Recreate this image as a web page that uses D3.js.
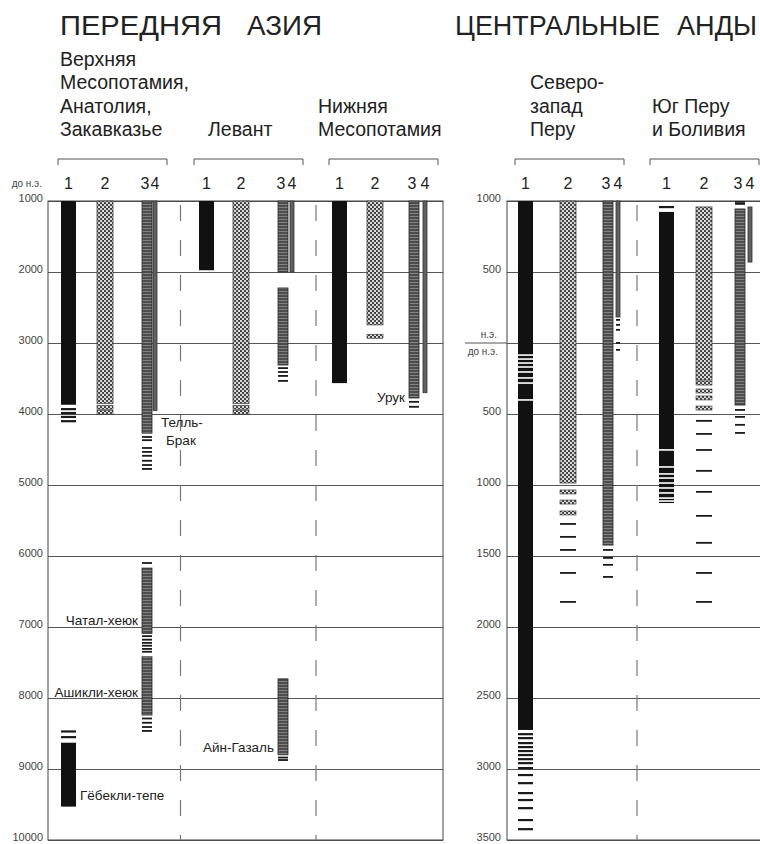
<!DOCTYPE html>
<html>
<head>
<meta charset="utf-8">
<script src="https://cdn.jsdelivr.net/npm/d3@7"></script>
<style>
  body { margin: 0; background: #fff; }
  svg { font-family: "Liberation Sans", Arial, sans-serif; }
</style>
</head>
<body>
<div id="chart"></div>
<script>
// ---- data ----
// left panel: years BC; right panel: years AD positive, BC negative

// Верхняя Месопотамия, Анатолия, Закавказье
var a1Bars = [[1000, 3870], [8630, 9530]];
var a1Ticks = [3930, 3985, 4040, 4100, 8470, 8550];
var a2Bars = [[1000, 3850]];
var a2Blocks = [3905, 3975];
var a3Bars = [[1000, 4270], [6170, 7090], [7420, 8240]];
var a3Ticks = [4325, 4370, 4480, 4535, 4590, 4660, 4720, 4775, 6100, 7130, 7180, 7225, 7265, 7310, 7350, 8290, 8350, 8410, 8465];
var a4Bars = [[1000, 3950]];

// Левант
var b1Bars = [[1000, 1975]];
var b2Bars = [[1000, 3850]];
var b2Blocks = [3905, 3975];
var b3Bars = [[1000, 2000], [2225, 3310], [7730, 8800]];
var b3Ticks = [3355, 3410, 3465, 3535, 8840, 8875];
var b4Bars = [[1000, 2000]];

// Нижняя Месопотамия
var c1Bars = [[1000, 3565]];
var c2Bars = [[1000, 2745]];
var c2Blocks = [2905];
var c3Bars = [[1000, 3775]];
var c3Ticks = [3830, 3900];
var c4Bars = [[1000, 3700]];

// Северо-запад Перу
var d1Bars = [[1000, -2725]];
var d1Gaps = [-85, -113, -141, -169, -204, -246, -282, -401];
var d1Ticks = [-2754, -2782, -2817, -2845, -2873, -2901, -2930, -2958, -2993, -3042, -3099, -3169, -3218, -3275, -3359, -3423];
var d2Bars = [[1000, -986]];
var d2Blocks = [-1049, -1120, -1197];
var d2Ticks = [-1275, -1366, -1458, -1620, -1824];
var d3Bars = [[1000, -1423]];
var d3Ticks = [-1458, -1514, -1563, -1648];
var d4Bars = [[1000, 183]];
var d4Ticks = [162, 127, 92, 0, -49];

// Юг Перу и Боливия
var e1Bars = [[923, -1127]];
var e1Ticks = [958];
var e1Gaps = [-753, -873, -922, -951, -986, -1021, -1056, -1092, -1113];
var e2Bars = [[958, -261]];
var e2Blocks = [-282, -338, -387, -458];
var e2Ticks = [-549, -641, -754, -901, -1049, -1218, -1408, -1620, -1824];
var e3Bars = [[944, -437]];
var e3Ticks = [993, 979, -472, -521, -577, -634];
var e4Bars = [[958, 570]];

var groups = ["A", "B", "C", "D", "E"];
var groupNames = [
  ["Верхняя", "Месопотамия,", "Анатолия,", "Закавказье"],
  ["Левант"],
  ["Нижняя", "Месопотамия"],
  ["Северо-", "запад", "Перу"],
  ["Юг Перу", "и Боливия"]
];
var colNames = ["1", "2", "3", "4"];
var leftTicks = [1000, 2000, 3000, 4000, 5000, 6000, 7000, 8000, 9000, 10000];
var rightTicks = [1000, 500, 0, -500, -1000, -1500, -2000, -2500, -3000, -3500];
var rightTickLabels = ["1000", "500", "", "500", "1000", "1500", "2000", "2500", "3000", "3500"];

var sites = [
  { text: "Телль-", group: "A", col: "4", side: "right", year: 4110 },
  { text: "Брак", group: "A", col: "4", side: "right", year: 4370, shift: 5 },
  { text: "Чатал-хеюк", group: "A", col: "3", side: "left", year: 6900 },
  { text: "Ашикли-хеюк", group: "A", col: "3", side: "left", year: 7915 },
  { text: "Гёбекли-тепе", group: "A", col: "1", side: "right", year: 9370 },
  { text: "Айн-Газаль", group: "B", col: "3", side: "left", year: 8700 },
  { text: "Урук", group: "C", col: "3", side: "left", year: 3760 }
];

var columns = [
  { group: "A", col: "1", bars: a1Bars, ticks: a1Ticks },
  { group: "A", col: "2", bars: a2Bars, blocks: a2Blocks },
  { group: "A", col: "3", bars: a3Bars, ticks: a3Ticks },
  { group: "A", col: "4", bars: a4Bars },
  { group: "B", col: "1", bars: b1Bars },
  { group: "B", col: "2", bars: b2Bars, blocks: b2Blocks },
  { group: "B", col: "3", bars: b3Bars, ticks: b3Ticks },
  { group: "B", col: "4", bars: b4Bars },
  { group: "C", col: "1", bars: c1Bars },
  { group: "C", col: "2", bars: c2Bars, blocks: c2Blocks },
  { group: "C", col: "3", bars: c3Bars, ticks: c3Ticks },
  { group: "C", col: "4", bars: c4Bars },
  { group: "D", col: "1", bars: d1Bars, ticks: d1Ticks, gaps: d1Gaps },
  { group: "D", col: "2", bars: d2Bars, blocks: d2Blocks, ticks: d2Ticks },
  { group: "D", col: "3", bars: d3Bars, ticks: d3Ticks },
  { group: "D", col: "4", bars: d4Bars, ticks: d4Ticks },
  { group: "E", col: "1", bars: e1Bars, ticks: e1Ticks, gaps: e1Gaps },
  { group: "E", col: "2", bars: e2Bars, blocks: e2Blocks, ticks: e2Ticks },
  { group: "E", col: "3", bars: e3Bars, ticks: e3Ticks },
  { group: "E", col: "4", bars: e4Bars }
];

// ---- layout ----
var W = 760, H = 844;
var yTop = 201, yBottom = 840;
var leftX0 = 48, leftX1 = 443, rightX0 = 507;
var bracketW = 109;

var svg = d3.select("#chart").append("svg")
  .attr("width", W).attr("height", H);

// scales
var yL = d3.scaleLinear().domain([1000, 10000]).range([yTop, yBottom]);
var yR = d3.scaleLinear().domain([1000, -3500]).range([yTop, yBottom]);
function yOf(g) { return (g == "D" || g == "E") ? yR : yL; }

var gx = d3.scaleOrdinal().domain(groups).range([58, 194, 329, 515, 650]);
var nameX = d3.scaleOrdinal().domain(groups).range([60, 208, 318, 530, 652]);
// left edge of every column, group+col key
var colKeys = [], colLeft = [
  61, 97, 142, 153,
  199, 233, 278, 290,
  332, 367, 409, 423,
  518, 560, 603, 616,
  659, 696, 735, 748
];
groups.forEach(function (g) { colNames.forEach(function (c) { colKeys.push(g + c); }); });
var colX = d3.scaleOrdinal().domain(colKeys).range(colLeft);
var cw = d3.scaleOrdinal().domain(colNames).range([15, 16, 10, 4]);

// patterns
var defs = svg.append("defs");
var pDots = defs.append("pattern").attr("id", "dots")
  .attr("patternUnits", "userSpaceOnUse").attr("width", 4).attr("height", 4);
pDots.append("rect").attr("width", 4).attr("height", 4).attr("fill", "#3c3c3c");
pDots.append("circle").attr("cx", 1).attr("cy", 1).attr("r", 1.15).attr("fill", "#e4e4e4");
pDots.append("circle").attr("cx", 3).attr("cy", 3).attr("r", 1.15).attr("fill", "#e4e4e4");

var pLines = defs.append("pattern").attr("id", "hlines")
  .attr("patternUnits", "userSpaceOnUse").attr("width", 4).attr("height", 3);
pLines.append("rect").attr("width", 4).attr("height", 3).attr("fill", "#4e4e4e");
pLines.append("rect").attr("width", 4).attr("height", 0.8).attr("fill", "#8e8e8e");

var barFill = { "1": "#111", "2": "url(#dots)", "3": "url(#hlines)", "4": "#606060" };
var barStroke = { "1": "none", "2": "#444", "3": "#2a2a2a", "4": "#333" };

// titles
var titles = [["ПЕРЕДНЯЯ", 60, 162], ["АЗИЯ", 247, 75], ["ЦЕНТРАЛЬНЫЕ", 455, 205], ["АНДЫ", 677, 80]];
svg.append("g").selectAll("text")
  .data(titles)
  .enter()
  .append("text")
  .attr("x", function (d) { return d[1]; })
  .attr("y", 35)
  .attr("textLength", function (d) { return d[2]; })
  .attr("lengthAdjust", "spacingAndGlyphs")
  .style("font-size", "27px").style("fill", "#222")
  .text(function (d) { return d[0]; });

// group names (bottom aligned)
groups.forEach(function (g, i) {
  var lines = groupNames[i];
  svg.append("g").selectAll("text")
    .data(lines)
    .enter()
    .append("text")
    .attr("x", nameX(g))
    .attr("y", function (d, j) { return 136 - (lines.length - 1 - j) * 23.5; })
    .style("font-size", "19.5px")
    .style("fill", "#222")
    .text(function (d) { return d; });

  // bracket
  var x0 = gx(g), x1 = gx(g) + bracketW;
  svg.append("path")
    .attr("d", "M" + x0 + ",165V159H" + x1 + "V165")
    .attr("fill", "none").attr("stroke", "#555").attr("stroke-width", 1);

  // column numbers
  svg.append("g").selectAll("text")
    .data(colNames)
    .enter()
    .append("text")
    .attr("x", function (d) { return colX(g + d) + cw(d) / 2 + (d == "3" ? -2 : 0); })
    .attr("y", 189)
    .attr("text-anchor", "middle")
    .style("font-size", "16px")
    .style("fill", "#222")
    .text(function (d) { return d; });
});

// axes with grid lines
var axL = svg.append("g")
  .attr("transform", "translate(" + leftX0 + ",0)")
  .call(d3.axisLeft(yL).tickValues(leftTicks).tickSize(-(leftX1 - leftX0)).tickPadding(5).tickFormat(d3.format("d")));
var axR = svg.append("g")
  .attr("transform", "translate(" + rightX0 + ",0)")
  .call(d3.axisLeft(yR).tickValues(rightTicks).tickSize(-(W - rightX0)).tickPadding(6)
    .tickFormat(function (d, i) { return rightTickLabels[i]; }));
[axL, axR].forEach(function (ax) {
  ax.select(".domain").remove();
  ax.selectAll(".tick line").attr("stroke", "#555").attr("stroke-width", 1);
  ax.selectAll(".tick text").attr("dy", "0.08em")
    .style("font-size", "11px").style("fill", "#444")
    .style("font-family", "'Liberation Sans', Arial, sans-serif");
});

// frames
svg.append("rect").attr("x", leftX0).attr("y", yTop)
  .attr("width", leftX1 - leftX0).attr("height", yBottom - yTop)
  .attr("fill", "none").attr("stroke", "#444");
svg.append("rect").attr("x", rightX0).attr("y", yTop)
  .attr("width", W - rightX0 + 10).attr("height", yBottom - yTop)
  .attr("fill", "none").attr("stroke", "#444");

// era line (н.э. / до н.э.)
svg.append("line")
  .attr("x1", 465).attr("x2", rightX0)
  .attr("y1", yR(0)).attr("y2", yR(0))
  .attr("stroke", "#555");
svg.append("text").attr("x", 497).attr("y", yR(0) - 5)
  .attr("text-anchor", "end").style("font-size", "10px").style("fill", "#444").text("н.э.");
svg.append("text").attr("x", 498).attr("y", yR(0) + 12)
  .attr("text-anchor", "end").style("font-size", "10px").style("fill", "#444").text("до н.э.");
svg.append("text").attr("x", 42).attr("y", 187)
  .attr("text-anchor", "end").style("font-size", "10px").style("fill", "#444").text("до н.э.");

// dashed separators between groups
var seps = [["A", "B"], ["B", "C"], ["D", "E"]];
svg.append("g").selectAll("line")
  .data(seps)
  .enter()
  .append("line")
  .attr("x1", function (d) { return (gx(d[0]) + bracketW + gx(d[1])) / 2; })
  .attr("x2", function (d) { return (gx(d[0]) + bracketW + gx(d[1])) / 2; })
  .attr("y1", 205).attr("y2", yBottom)
  .attr("stroke", "#777").attr("stroke-width", 1.2)
  .attr("stroke-dasharray", "16,19");

// columns
columns.forEach(function (c) {
  var y = yOf(c.group);
  var x = colX(c.group + c.col);
  var w = cw(c.col);
  var g = svg.append("g");

  g.selectAll("rect.bar")
    .data(c.bars)
    .enter()
    .append("rect")
    .attr("class", "bar")
    .attr("x", x).attr("width", w)
    .attr("y", function (d) { return y(d[0]); })
    .attr("height", function (d) { return y(d[1]) - y(d[0]); })
    .attr("fill", barFill[c.col])
    .attr("stroke", barStroke[c.col])
    .attr("stroke-width", 0.8);

  g.selectAll("rect.gap")
    .data(c.gaps || [])
    .enter()
    .append("rect")
    .attr("class", "gap")
    .attr("x", x - 0.5).attr("width", w + 1)
    .attr("y", function (d) { return y(d) - 0.8; })
    .attr("height", 1.6)
    .attr("fill", "#fff");

  g.selectAll("rect.block")
    .data(c.blocks || [])
    .enter()
    .append("rect")
    .attr("class", "block")
    .attr("x", x).attr("width", w)
    .attr("y", function (d) { return y(d) - 2; })
    .attr("height", 4)
    .attr("fill", "url(#dots)")
    .attr("stroke", "#333").attr("stroke-width", 0.6);

  g.selectAll("rect.tick")
    .data(c.ticks || [])
    .enter()
    .append("rect")
    .attr("class", "tick")
    .attr("x", x).attr("width", w)
    .attr("y", function (d) { return y(d) - 1; })
    .attr("height", c.col == "1" ? 2.2 : 1.8)
    .attr("fill", "#1a1a1a");
});

// site labels
svg.append("g").selectAll("text")
  .data(sites)
  .enter()
  .append("text")
  .attr("x", function (d) {
    var x = colX(d.group + d.col);
    return d.side == "left" ? x - 4 : x + cw(d.col) + 4 + (d.shift || 0);
  })
  .attr("y", function (d) { return yOf(d.group)(d.year); })
  .attr("dy", "0.35em")
  .attr("text-anchor", function (d) { return d.side == "left" ? "end" : "start"; })
  .style("font-size", "13.5px")
  .style("fill", "#222")
  .text(function (d) { return d.text; });
</script>
</body>
</html>
